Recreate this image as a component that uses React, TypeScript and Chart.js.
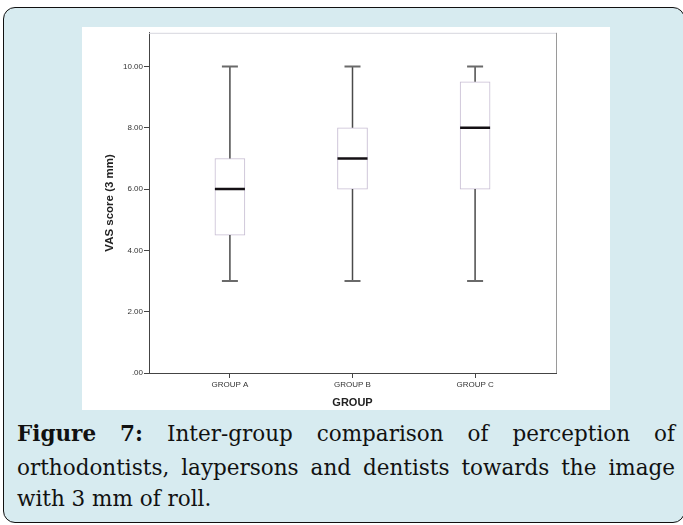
import React, { useEffect, useRef } from 'react';
import { Chart, registerables } from 'chart.js';

Chart.register(...registerables);

// ---- data ----
const groups = ['GROUP A', 'GROUP B', 'GROUP C'];
const whiskerMin = [3, 3, 3];
const q1 = [4.5, 6, 6];
const median = [6, 7, 8];
const q3 = [7, 8, 9.5];
const whiskerMax = [10, 10, 10];
const yTicks = [0, 2, 4, 6, 8, 10];
const yMax = 11.1;
const xMin = -0.66;
const xMax = 2.66;

const captionLine1 = ['Figure', '7:', 'Inter-group', 'comparison', 'of', 'perception', 'of'];
const captionLine2 = ['orthodontists,', 'laypersons', 'and', 'dentists', 'towards', 'the', 'image'];
const captionLine3 = 'with 3 mm of roll.';

const framePlugin = {
  id: 'frame',
  afterDraw(chart: any) {
    const { ctx, chartArea } = chart;
    ctx.save();
    ctx.lineWidth = 1;
    ctx.strokeStyle = '#d6d6de';
    ctx.beginPath();
    ctx.moveTo(chartArea.left, chartArea.top + 0.5);
    ctx.lineTo(chartArea.right, chartArea.top + 0.5);
    ctx.stroke();
    ctx.strokeStyle = '#9a9a9a';
    ctx.beginPath();
    ctx.moveTo(chartArea.right + 0.5, chartArea.top);
    ctx.lineTo(chartArea.right + 0.5, chartArea.bottom);
    ctx.stroke();
    ctx.restore();
  },
};

function BoxChart() {
  const ref = useRef<HTMLCanvasElement | null>(null);
  useEffect(() => {
    if (!ref.current) return;
    const whiskerData: any[] = [];
    groups.forEach((_, i) => {
      whiskerData.push({ x: i, y: whiskerMin[i] }, { x: i, y: q1[i] }, { x: i, y: null });
      whiskerData.push({ x: i, y: q3[i] }, { x: i, y: whiskerMax[i] }, { x: i, y: null });
    });
    const capData: any[] = [];
    groups.forEach((_, i) => {
      capData.push({ x: i, y: whiskerMin[i] }, { x: i, y: whiskerMax[i] });
    });
    const tickFont = { family: 'Liberation Sans', size: 8 };
    const chart = new Chart(ref.current, {
      type: 'bar',
      data: {
        datasets: [
          {
            type: 'bar',
            data: groups.map((_, i) => ({ x: i, y: [q1[i], q3[i]] })) as any,
            backgroundColor: '#ffffff',
            borderColor: '#c6bcd2',
            borderWidth: 1,
            borderSkipped: false,
            barThickness: 30,
            grouped: false,
            order: 3,
          } as any,
          {
            type: 'line',
            data: whiskerData,
            borderColor: '#4a4a4a',
            borderWidth: 1.5,
            pointRadius: 0,
            spanGaps: false,
            fill: false,
            order: 2,
          } as any,
          {
            type: 'line',
            data: capData,
            showLine: false,
            pointStyle: 'line',
            pointRadius: 8,
            pointBorderColor: '#6a6a6a',
            pointBorderWidth: 2,
            order: 1,
          } as any,
          {
            type: 'line',
            data: groups.map((_, i) => ({ x: i, y: median[i] })),
            showLine: false,
            pointStyle: 'line',
            pointRadius: 15,
            pointBorderColor: '#141014',
            pointBorderWidth: 2.5,
            order: 0,
          } as any,
        ],
      },
      options: {
        animation: false,
        responsive: false,
        events: [],
        layout: { autoPadding: false, padding: { top: 5, right: 54, left: 0, bottom: 0 } },
        plugins: { legend: { display: false }, tooltip: { enabled: false } },
        scales: {
          x: {
            type: 'linear',
            offset: false,
            min: xMin,
            max: xMax,
            afterBuildTicks: (scale: any) => {
              scale.ticks = groups.map((_, i) => ({ value: i }));
            },
            afterFit: (scale: any) => {
              scale.height = 37;
            },
            ticks: {
              callback: (v: any) => groups[v] ?? '',
              font: tickFont,
              color: '#333',
              padding: 2,
              maxRotation: 0,
              autoSkip: false,
            },
            grid: { drawOnChartArea: false, drawTicks: true, tickLength: 5, color: '#444', offset: false },
            border: { display: true, color: '#444', width: 1 },
            title: {
              display: true,
              text: 'GROUP',
              font: { family: 'Liberation Sans', size: 11, weight: 'bold' },
              color: '#222',
              padding: { top: 0, bottom: 0 },
            },
          } as any,
          y: {
            type: 'linear',
            min: 0,
            max: yMax,
            afterBuildTicks: (scale: any) => {
              scale.ticks = yTicks.map((v) => ({ value: v }));
            },
            afterFit: (scale: any) => {
              scale.width = 67;
            },
            ticks: {
              callback: (v: any) => (v === 0 ? '.00' : Number(v).toFixed(2)),
              font: tickFont,
              color: '#333',
              padding: 1,
            },
            grid: { drawOnChartArea: false, drawTicks: true, tickLength: 5, color: '#444' },
            border: { display: true, color: '#444', width: 1 },
            title: {
              display: true,
              text: 'VAS score (3 mm)',
              font: { family: 'Liberation Sans', size: 11.5, weight: 'bold' },
              color: '#222',
              padding: { top: 21, bottom: 0 },
            },
          } as any,
        },
      },
      plugins: [framePlugin],
    } as any);
    return () => chart.destroy();
  }, []);
  return <canvas ref={ref} width={528} height={383} style={{ display: 'block' }} />;
}

const captionFont: React.CSSProperties = {
  fontFamily: '"DejaVu Serif", serif',
  fontSize: 21.5,
  lineHeight: '24px',
  color: '#111',
  position: 'absolute',
  left: 17,
  whiteSpace: 'nowrap',
};

export default function App() {
  return (
    <div style={{ position: 'absolute', left: 0, top: 0, width: 683, height: 525, overflow: 'hidden' }}>
      <div
        style={{
          position: 'absolute',
          left: 3,
          top: 7,
          width: 682,
          height: 516,
          boxSizing: 'border-box',
          border: '1.5px solid #111',
          borderRadius: 12,
          background: '#d7ebf0',
        }}
      />
      <div style={{ position: 'absolute', left: 82, top: 27, width: 528, height: 383, background: '#fff' }}>
        <BoxChart />
      </div>
      <div style={{ ...captionFont, top: 422, width: 658, display: 'flex', justifyContent: 'space-between' }}>
        {captionLine1.map((w, i) => (
          <span key={i} style={{ fontWeight: i < 2 ? 'bold' : 'normal' }}>
            {w}
          </span>
        ))}
      </div>
      <div style={{ ...captionFont, top: 455.5, width: 658, display: 'flex', justifyContent: 'space-between' }}>
        {captionLine2.map((w, i) => (
          <span key={i}>{w}</span>
        ))}
      </div>
      <div style={{ ...captionFont, top: 486.5 }}>{captionLine3}</div>
    </div>
  );
}
